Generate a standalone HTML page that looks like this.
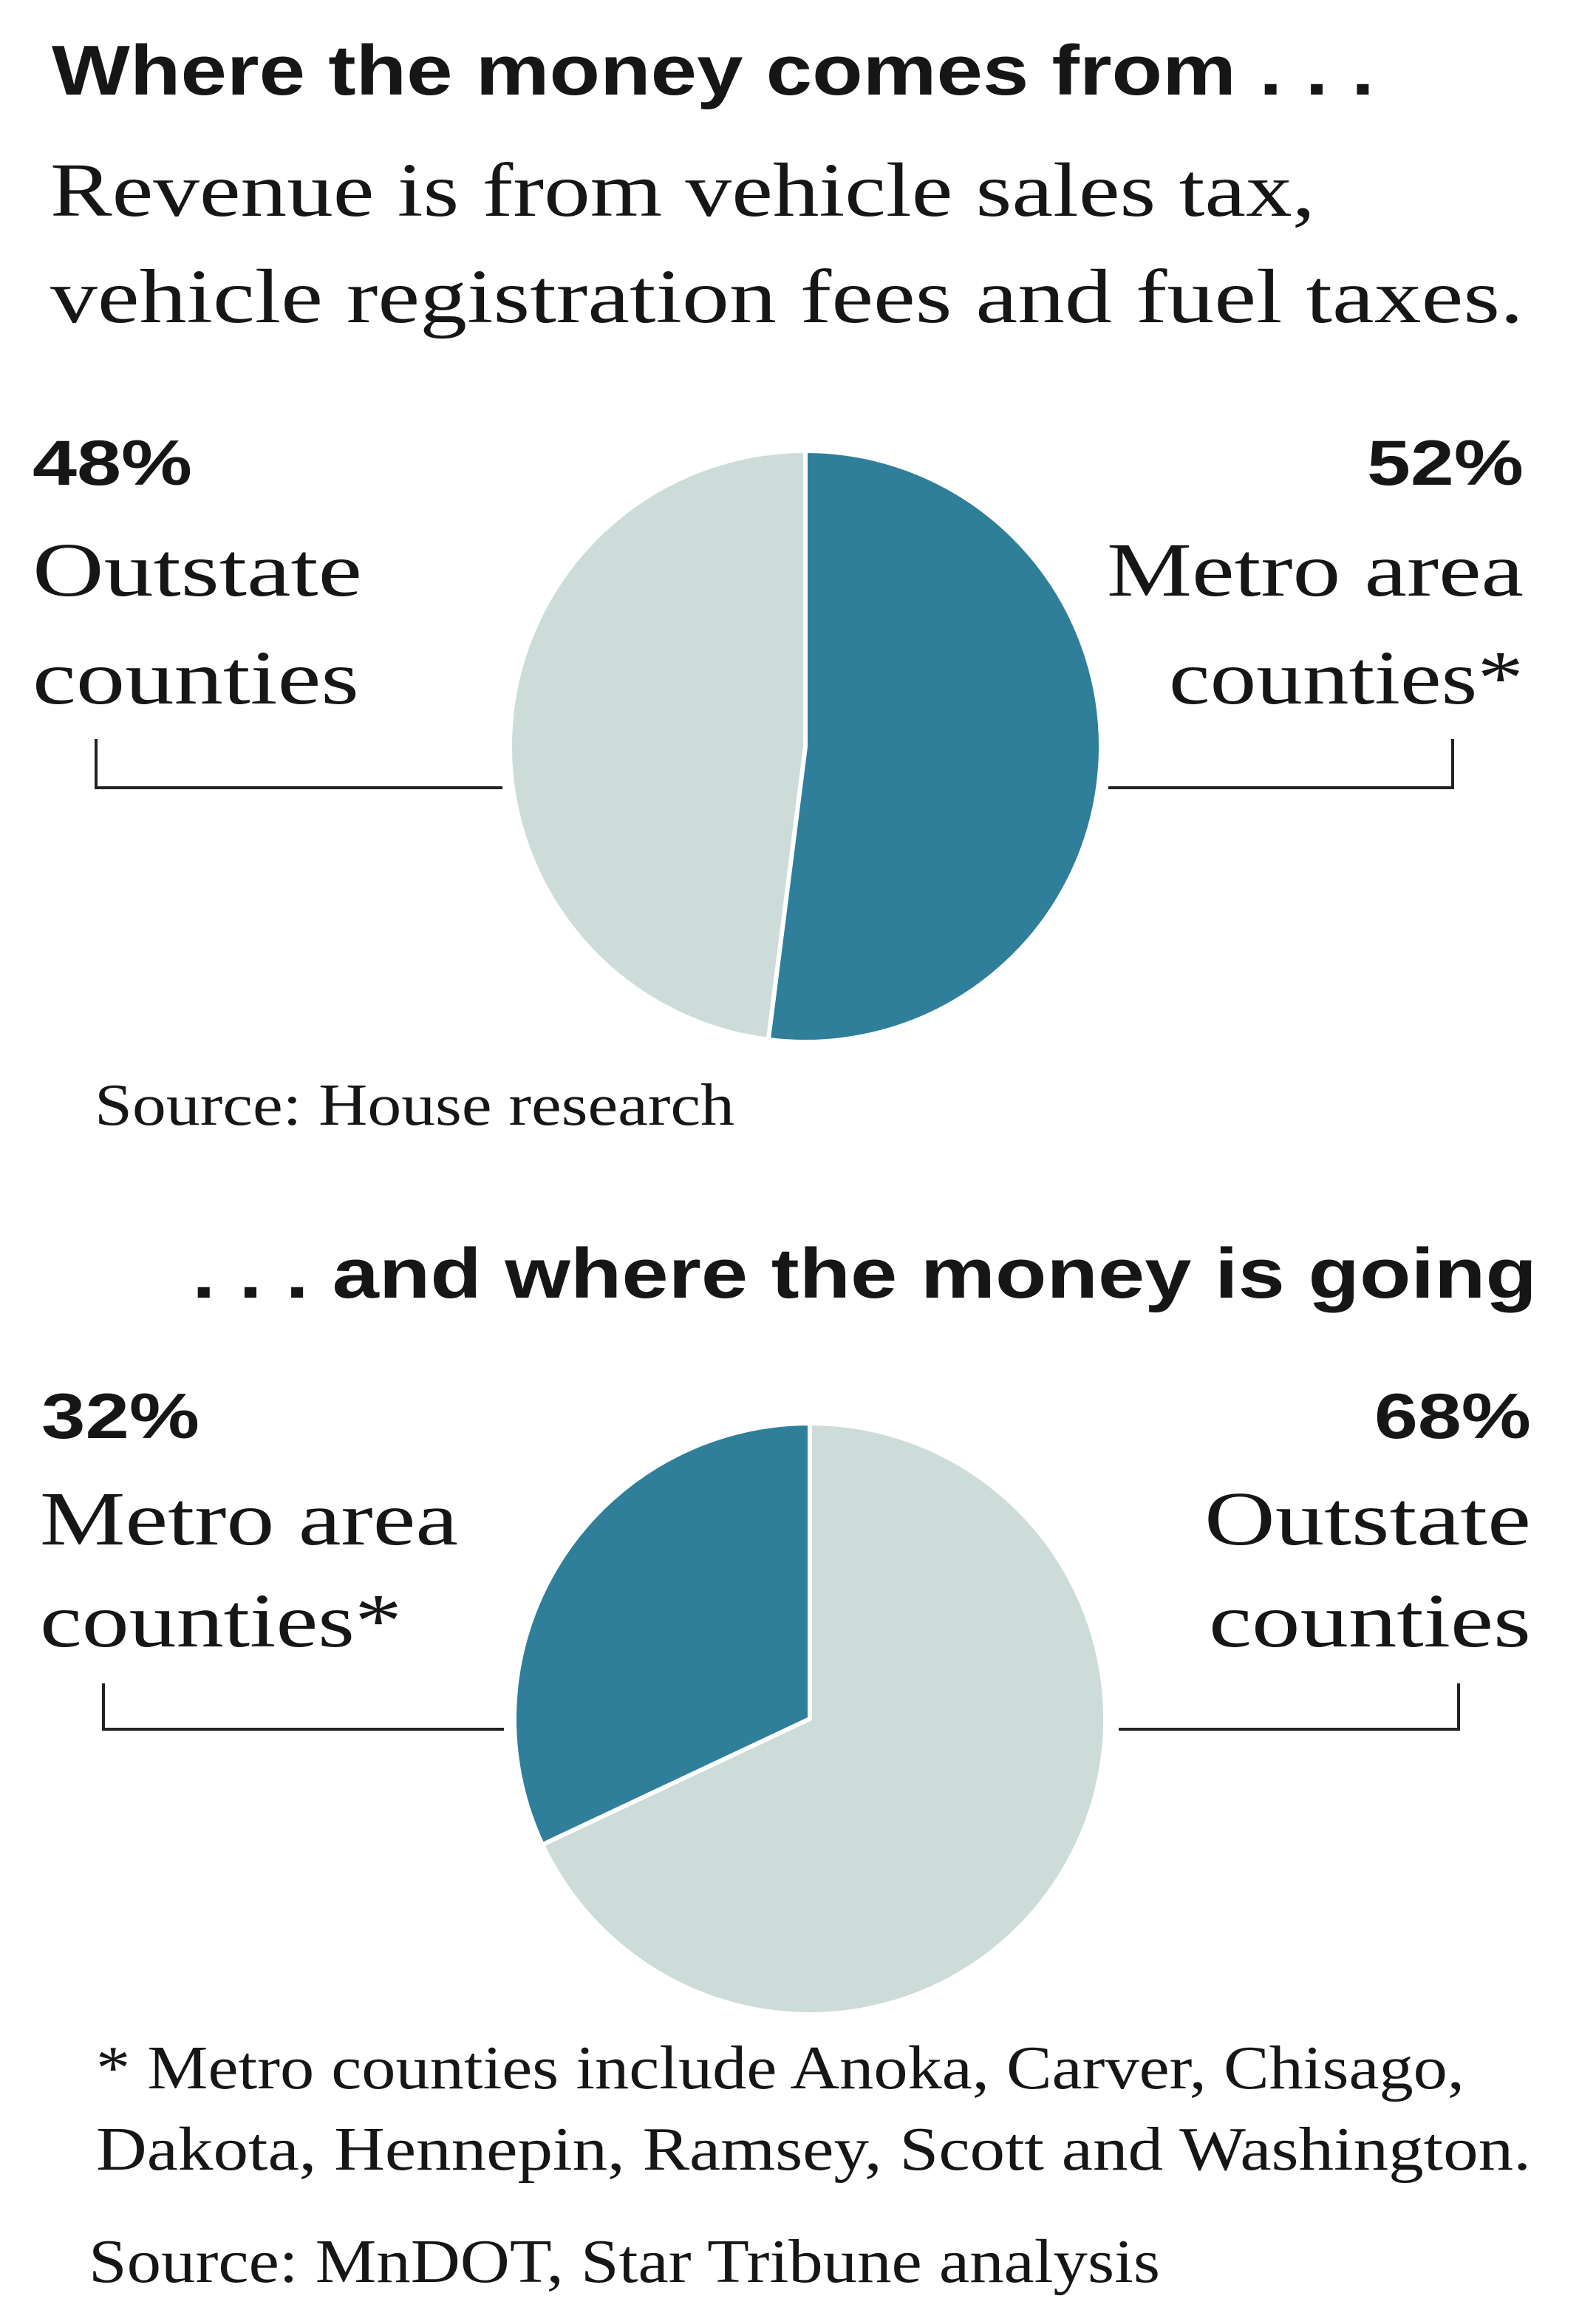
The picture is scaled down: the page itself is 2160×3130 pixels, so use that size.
<!DOCTYPE html>
<html><head><meta charset="utf-8">
<style>
html,body{margin:0;padding:0;background:#fff;}
svg{display:block;}
text{fill:#161616;font-family:"Liberation Serif",serif;}
.b{font-family:"Liberation Sans",sans-serif;font-weight:bold;}
</style></head>
<body>
<svg id="chart" width="2160" height="3130" viewBox="0 0 2160 3130">
<text class="b" x="70" y="128" font-size="96" textLength="1790" lengthAdjust="spacingAndGlyphs">Where the money comes from . . .</text>
<text x="68" y="292" font-size="104" textLength="1712" lengthAdjust="spacingAndGlyphs">Revenue is from vehicle sales tax,</text>
<text x="68" y="436" font-size="104" textLength="1994" lengthAdjust="spacingAndGlyphs">vehicle registration fees and fuel taxes.</text>

<text class="b" x="44" y="656" font-size="86" textLength="216" lengthAdjust="spacingAndGlyphs">48%</text>
<text x="44" y="806" font-size="104" textLength="446" lengthAdjust="spacingAndGlyphs">Outstate</text>
<text x="44" y="952" font-size="104" textLength="442" lengthAdjust="spacingAndGlyphs">counties</text>
<text class="b" x="2062" y="656" font-size="86" text-anchor="end" textLength="212" lengthAdjust="spacingAndGlyphs">52%</text>
<text x="2062" y="806" font-size="104" text-anchor="end" textLength="564" lengthAdjust="spacingAndGlyphs">Metro area</text>
<text x="2062" y="952" font-size="104" text-anchor="end" textLength="480" lengthAdjust="spacingAndGlyphs">counties*</text>
<polyline points="130,1000 130,1066 680,1066" fill="none" stroke="#222" stroke-width="4"/>
<polyline points="1500,1066 1966,1066 1966,1000" fill="none" stroke="#222" stroke-width="4"/>
<g id="pie1"></g>
<text x="128" y="1522" font-size="80" textLength="866" lengthAdjust="spacingAndGlyphs">Source: House research</text>

<text class="b" x="2080" y="1756" font-size="96" text-anchor="end" textLength="1820" lengthAdjust="spacingAndGlyphs">. . . and where the money is going</text>
<text class="b" x="56" y="1946" font-size="86" textLength="214" lengthAdjust="spacingAndGlyphs">32%</text>
<text x="54" y="2090" font-size="104" textLength="566" lengthAdjust="spacingAndGlyphs">Metro area</text>
<text x="54" y="2228" font-size="104" textLength="490" lengthAdjust="spacingAndGlyphs">counties*</text>
<text class="b" x="2072" y="1946" font-size="86" text-anchor="end" textLength="212" lengthAdjust="spacingAndGlyphs">68%</text>
<text x="2072" y="2090" font-size="104" text-anchor="end" textLength="442" lengthAdjust="spacingAndGlyphs">Outstate</text>
<text x="2072" y="2228" font-size="104" text-anchor="end" textLength="436" lengthAdjust="spacingAndGlyphs">counties</text>
<polyline points="140,2278 140,2340 682,2340" fill="none" stroke="#222" stroke-width="4"/>
<polyline points="1514,2340 1974,2340 1974,2278" fill="none" stroke="#222" stroke-width="4"/>
<g id="pie2"></g>

<text x="130" y="2826" font-size="84" textLength="1852" lengthAdjust="spacingAndGlyphs">* Metro counties include Anoka, Carver, Chisago,</text>
<text x="130" y="2936" font-size="84" textLength="1942" lengthAdjust="spacingAndGlyphs">Dakota, Hennepin, Ramsey, Scott and Washington.</text>
<text x="120" y="3088" font-size="84" textLength="1450" lengthAdjust="spacingAndGlyphs">Source: MnDOT, Star Tribune analysis</text>
</svg>
<script>
const pie1Categories = ["Metro area counties", "Outstate counties"];
const pie1Values = [52, 48];
const pie2Categories = ["Metro area counties", "Outstate counties"];
const pie2Values = [32, 68];

const colorFor = {"Metro area counties":"#2f7f9a","Outstate counties":"#cddcd8"};
const NS = "http://www.w3.org/2000/svg";
function angle(frac){ return frac * 2 * Math.PI; }
function pt(cx,cy,r,a){ return [cx + r*Math.sin(a), cy - r*Math.cos(a)]; }
function drawPie(gid, cats, vals, cx, cy, r, dir){
  const g = document.getElementById(gid);
  const total = vals.reduce((a,b)=>a+b,0);
  let acc = 0;
  cats.forEach((c,i)=>{
    const a0 = dir*angle(acc/total);
    acc += vals[i];
    const a1 = dir*angle(acc/total);
    const p0 = pt(cx,cy,r,a0), p1 = pt(cx,cy,r,a1);
    const large = (vals[i]/total) > 0.5 ? 1 : 0;
    const sweep = dir > 0 ? 1 : 0;
    const path = document.createElementNS(NS,"path");
    path.setAttribute("d", `M${cx},${cy} L${p0[0]},${p0[1]} A${r},${r} 0 ${large} ${sweep} ${p1[0]},${p1[1]} Z`);
    path.setAttribute("fill", colorFor[c]);
    path.setAttribute("stroke", "#fff");
    path.setAttribute("stroke-width", "6");
    path.setAttribute("stroke-linejoin", "round");
    
    
    g.appendChild(path);
  });
}
drawPie("pie1", pie1Categories, pie1Values, 1090, 1010, 400, 1);
drawPie("pie2", pie2Categories, pie2Values, 1096, 2326, 400, -1);
</script>
</body></html>
